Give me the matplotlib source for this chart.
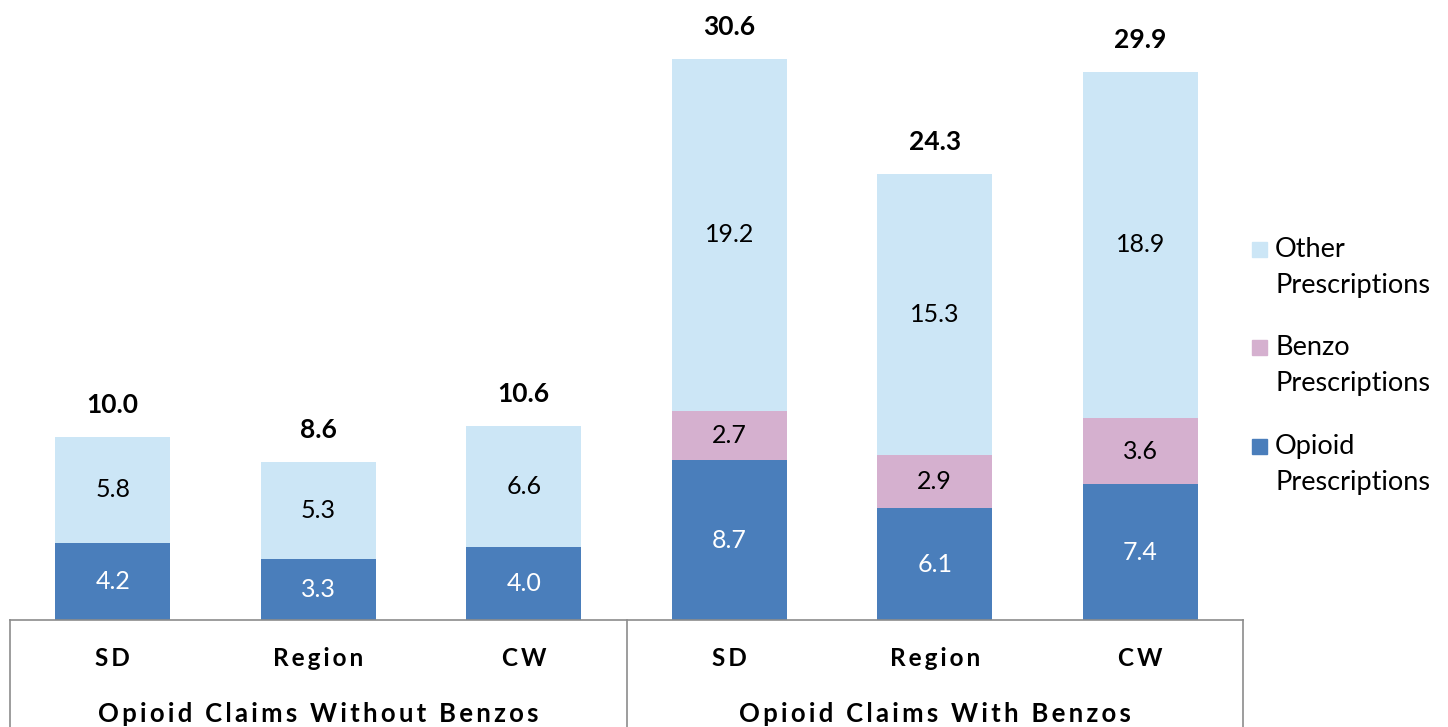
import matplotlib.pyplot as plt
from matplotlib.patches import Rectangle

plt.rcParams['font.family'] = ['Lato', 'DejaVu Sans']

categories = ['SD', 'Region', 'CW', 'SD', 'Region', 'CW']
groups = ['Opioid Claims Without Benzos', 'Opioid Claims With Benzos']
opioid = [4.2, 3.3, 4.0, 8.7, 6.1, 7.4]
benzo = [0.0, 0.0, 0.0, 2.7, 2.9, 3.6]
other = [5.8, 5.3, 6.6, 19.2, 15.3, 18.9]
totals = [10.0, 8.6, 10.6, 30.6, 24.3, 29.9]

c_opioid = '#4a7ebb'
c_benzo = '#d5b0cf'
c_other = '#cce6f6'
edge = '#8c8c8c'


def spaced(s):
    # the axis labels in the original are letter-spaced
    return '\u2009'.join(s)


fig = plt.figure(figsize=(14.48, 7.27), dpi=100)
ax = fig.add_axes([10 / 1448, 107 / 727, 1233 / 1448, 620 / 727])

x = list(range(len(categories)))
w = 0.56
b1 = ax.bar(x, opioid, w, color=c_opioid)
b2 = ax.bar(x, benzo, w, bottom=opioid, color=c_benzo)
bottom3 = [o + b for o, b in zip(opioid, benzo)]
b3 = ax.bar(x, other, w, bottom=bottom3, color=c_other)

for i in x:
    ax.text(i, opioid[i] / 2, f'{opioid[i]:.1f}', ha='center', va='center',
            color='white', fontsize=18)
    if benzo[i] > 0:
        ax.text(i, opioid[i] + benzo[i] / 2, f'{benzo[i]:.1f}', ha='center',
                va='center', color='black', fontsize=18)
    ax.text(i, bottom3[i] + other[i] / 2, f'{other[i]:.1f}', ha='center',
            va='center', color='black', fontsize=18)
    ax.annotate(f'{totals[i]:.1f}', (i, bottom3[i] + other[i]),
                xytext=(0, 23), textcoords='offset points', ha='center',
                va='center', fontsize=19, fontweight='bold')

ax.set_xlim(-0.5, 5.5)
ax.set_ylim(0, 33.8)
ax.axis('off')

# table-like category box under the bars
tr = ax.get_xaxis_transform()
ax.plot([-0.5, 5.5], [0, 0], color=edge, lw=1.2, transform=tr, clip_on=False)
for xv in [-0.5, 2.5, 5.5]:
    ax.plot([xv, xv], [0, -0.3], color=edge, lw=1.2, transform=tr, clip_on=False)

for i, c in enumerate(categories):
    ax.text(i, -38 / 620, spaced(c), transform=tr, ha='center', va='center',
            fontsize=17.5, fontweight='bold')
for g, name in enumerate(groups):
    ax.text(1 + 3 * g, -94 / 620, spaced(name), transform=tr, ha='center',
            va='center', fontsize=18.5, fontweight='bold')

# legend
leg_names = ['Other\nPrescriptions', 'Benzo\nPrescriptions', 'Opioid\nPrescriptions']
leg_colors = [c_other, c_benzo, c_opioid]
leg_y = [249, 347, 446]
for name, col, yy in zip(leg_names, leg_colors, leg_y):
    fig.patches.append(Rectangle((1252 / 1448, (727 - yy - 8) / 727),
                                 15 / 1448, 15 / 727, color=col,
                                 transform=fig.transFigure))
    fig.text(1275 / 1448, (727 - yy + 12) / 727, name, ha='left', va='top',
             fontsize=19.5, linespacing=1.55)

fig.savefig('out.png', dpi=100)
